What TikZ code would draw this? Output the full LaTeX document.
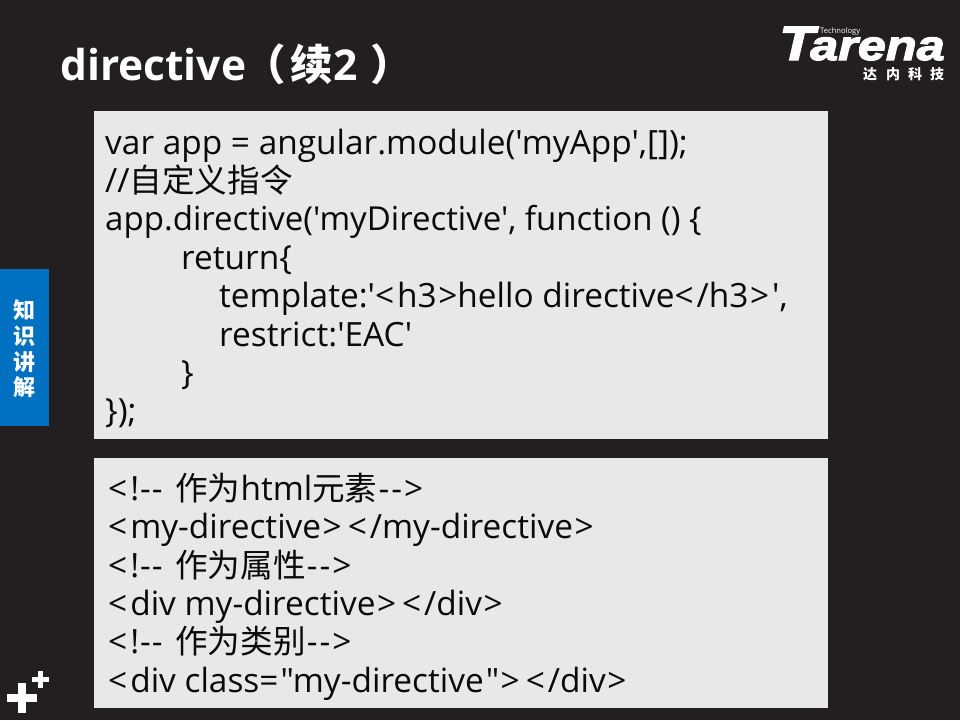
\documentclass[tikz,border=0pt]{standalone}
\usepackage{fontspec}
\setmainfont{Open Sans}[Ligatures=TeXOff]
\newfontfamily\cjk{Noto Sans CJK SC}[Ligatures=TeXOff]
\newfontfamily\logofont{Liberation Sans}[FakeBold=3,FakeStretch=1.2]
\definecolor{bgc}{HTML}{231F20}
\definecolor{boxc}{HTML}{E8E8E8}
\definecolor{bluec}{HTML}{0070C0}
\definecolor{txtc}{HTML}{0A0A0A}
\newcommand{\cj}[1]{{\cjk\fontsize{32.6}{36}\selectfont #1}}
\newcommand{\gp}{\kern6pt\relax}
\newcommand{\Lt}{<\kern3pt\relax}
\newcommand{\Gt}{\kern1.5pt>}
\newcommand{\Cs}{\Lt!\kern1pt-\kern1pt-\kern4pt\ }
\newcommand{\Ce}{\kern1pt-\kern2pt-\kern2pt>}
\tikzset{
  code/.style={anchor=base west,inner sep=0pt,text=txtc,font=\fontsize{33.4}{38}\selectfont},
  codetight/.style={code,font=\fontsize{33}{38}\selectfont},
  panel/.style={fill=boxc,draw=none},
  sidetext/.style={anchor=center,inner sep=0pt,text=white,font=\cjk\bfseries\fontsize{22}{22}\selectfont},
  logotext/.style={inner sep=0pt,text=white},
  logozh/.style={logotext,anchor=base west,font=\cjk\bfseries\fontsize{14}{14}\selectfont},
  titletext/.style={anchor=base west,inner sep=0pt,text=white,font=\bfseries\fontsize{42.5}{48}\selectfont},
  plusmark/.style={fill=white,draw=none}
}
\begin{document}
\begin{tikzpicture}[x=1pt,y=-1pt]
\useasboundingbox (0,0) rectangle (960,720);
\fill[bgc] (0,0) rectangle (960,720);
\fill[panel] (94,111) rectangle (828,439);
\fill[panel] (94,458) rectangle (828,708);
\fill[bluec] (0,269) rectangle (49,426);
% title
\node[titletext] (title) at (60,80) {directive};
\node[titletext] (t1) at (243,80) {\cjk\bfseries （};
\node[titletext] (t2) at (290,80) {\cjk\bfseries 续};
\node[titletext] (t3) at (333,80) {2};
\node[titletext] (t4) at (370,80) {\cjk\bfseries ）};
% code one
\node[code] (a1) at (105,154) {var app = angular.module('myApp',[]);};
\node[code] (a2) at (105,192) {//\cj{自定义指令}};
\node[codetight] (a3) at (105,230) {app.directive('myDirective', function () \{};
\node[code] (a4) at (181,269) {return\{};
\node[code] (a5) at (219,307) {template:'\Lt h3\Gt hello directive\Lt/h3\Gt\kern3pt',};
\node[code] (a6) at (219,346) {restrict:'EAC'};
\node[code] (a7) at (181,384) {\}};
\node[code] (a8) at (105,422) {\});};
% code two
\node[code] (b1) at (108,500) {\Cs\cj{作为}html\cj{元素}\Ce};
\node[code] (b2) at (108,538) {\Lt my-directive\Gt\gp\Lt/my-directive\Gt};
\node[code] (b3) at (108,577) {\Cs\cj{作为属性}\Ce};
\node[code] (b4) at (108,615) {\Lt div my-directive\Gt\gp\Lt/div\Gt};
\node[code] (b5) at (108,653) {\Cs\cj{作为类别}\Ce};
\node[code] (b6) at (108,692) {\Lt div class=\kern2pt"my-directive\kern2pt"\Gt\gp\Lt/div\Gt};
% side label
\node[sidetext] (s1) at (24.5,310) {知};
\node[sidetext] (s2) at (24.5,336) {识};
\node[sidetext] (s3) at (24.5,362) {讲};
\node[sidetext] (s4) at (24.5,387) {解};
% logo
\node[logotext,anchor=base west,font=\logofont\bfseries\itshape\fontsize{48}{48}\selectfont] (logoT) at (779,60) {T};
\node[logotext,anchor=base west,font=\logofont\bfseries\itshape\fontsize{42}{42}\selectfont] (logo) at (810,60) {arena};
\node[logotext,anchor=base west,font=\fontsize{7.6}{8}\selectfont] (tech) at (820,33) {Technology};
\node[logozh] (zh1) at (863,79) {达};
\node[logozh] (zh2) at (886,79) {内};
\node[logozh] (zh3) at (908,79) {科};
\node[logozh] (zh4) at (930,79) {技};
% plus marks
\fill[plusmark] (7,694) rectangle (37,702);
\fill[plusmark] (18,683) rectangle (26,713);
\fill[plusmark] (32,677) rectangle (49,682);
\fill[plusmark] (38,671) rectangle (43,688);
\end{tikzpicture}
\end{document}
